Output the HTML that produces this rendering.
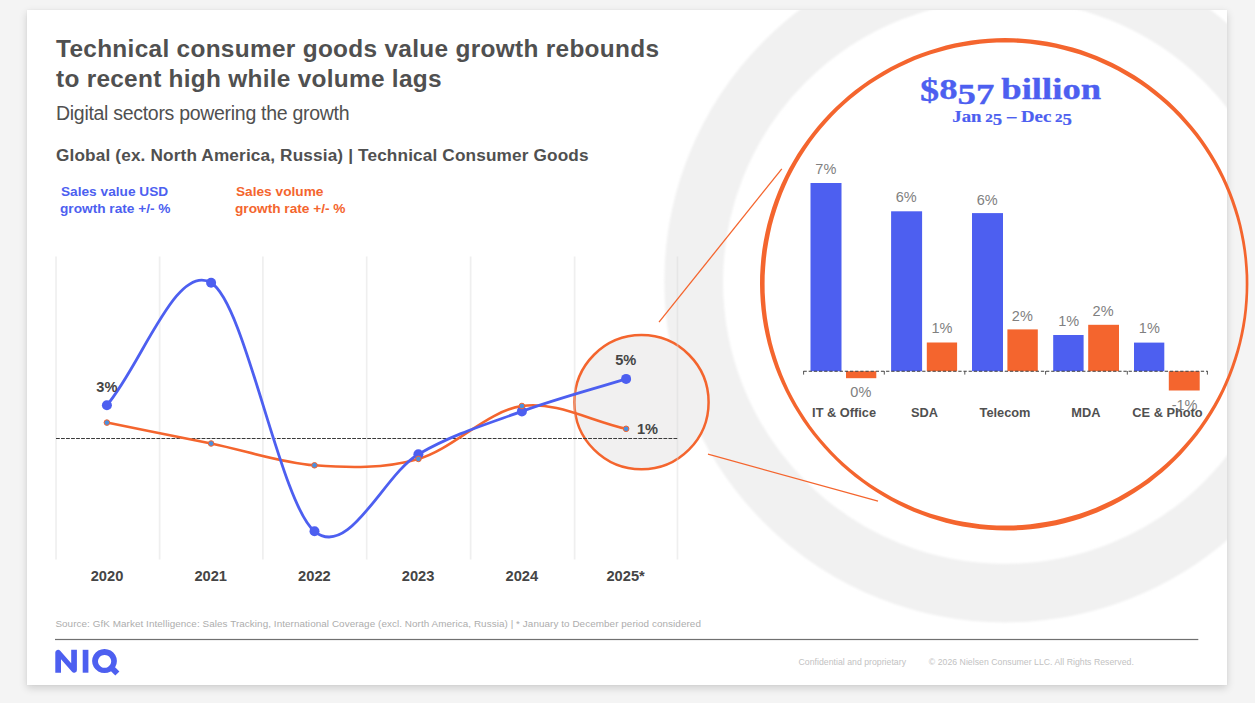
<!DOCTYPE html>
<html>
<head>
<meta charset="utf-8">
<title>Technical consumer goods</title>
<style>
html,body{margin:0;padding:0;}
body{width:1255px;height:703px;background:#f4f4f4;overflow:hidden;position:relative;font-family:"Liberation Sans",sans-serif;}
#card{position:absolute;left:27px;top:10px;width:1200px;height:675px;background:#fff;box-shadow:0 3px 8px rgba(0,0,0,0.16),0 0 2px rgba(0,0,0,0.04);}
svg{position:absolute;left:0;top:0;}
text{font-family:"Liberation Sans",sans-serif;}
.serif{font-family:"Liberation Serif",serif;font-weight:bold;fill:#4d5ff0;}
.b{font-weight:bold;}
.dk{fill:#505050;}
.bl{fill:#4d5ff0;}
.or{fill:#f4652e;}
.gy{fill:#808080;}
</style>
</head>
<body>
<div id="card"></div>
<svg width="1255" height="703" viewBox="0 0 1255 703">
<defs>
<clipPath id="cardclip"><rect x="27" y="10" width="1200" height="675"/></clipPath>
<filter id="soft" x="-5%" y="-5%" width="110%" height="110%"><feGaussianBlur stdDeviation="0.9"/></filter>
</defs>
<!-- background ring -->
<g clip-path="url(#cardclip)">
<circle cx="1005.1" cy="281.7" r="311.4" fill="none" stroke="#f1f1f1" stroke-width="58.7" filter="url(#soft)"/>
</g>

<!-- titles -->
<text class="b dk" x="56" y="56.6" font-size="24.4" textLength="603" lengthAdjust="spacing">Technical consumer goods value growth rebounds</text>
<text class="b dk" x="56" y="86.6" font-size="24.4" textLength="385.5" lengthAdjust="spacing">to recent high while volume lags</text>
<text class="dk" x="56" y="120" font-size="19.5" textLength="293.5" lengthAdjust="spacing">Digital sectors powering the growth</text>
<text class="b dk" x="56" y="160.5" font-size="17.2" textLength="532.5" lengthAdjust="spacing">Global (ex. North America, Russia) | Technical Consumer Goods</text>

<!-- legend -->
<text class="b bl" x="61" y="195.7" font-size="13.68">Sales value USD</text>
<text class="b bl" x="60" y="212.8" font-size="13.68">growth rate +/- %</text>
<text class="b or" x="236" y="195.7" font-size="13.68">Sales volume</text>
<text class="b or" x="235" y="212.8" font-size="13.68">growth rate +/- %</text>

<!-- small circle -->
<circle cx="641.5" cy="402.2" r="67.1" fill="#f1f0f0" stroke="#f4652e" stroke-width="2.5"/>

<!-- gridlines -->
<g stroke="#d6d6d6" stroke-opacity="0.4" stroke-width="1.7">
<line x1="56" y1="256.5" x2="56" y2="559.5"/>
<line x1="159.6" y1="256.5" x2="159.6" y2="559.5"/>
<line x1="262.9" y1="256.5" x2="262.9" y2="559.5"/>
<line x1="366.7" y1="256.5" x2="366.7" y2="559.5"/>
<line x1="470.6" y1="256.5" x2="470.6" y2="559.5"/>
<line x1="574.6" y1="256.5" x2="574.6" y2="559.5"/>
<line x1="677.5" y1="256.5" x2="677.5" y2="559.5"/>
</g>

<!-- zero line -->
<line x1="56" y1="438.5" x2="678" y2="438.5" stroke="#3a3a3a" stroke-width="1.1" stroke-dasharray="3.8 1.22"/>

<!-- connectors -->
<line x1="659" y1="322.2" x2="781.8" y2="168.8" stroke="#f4652e" stroke-width="1.3"/>
<line x1="708" y1="454.2" x2="878" y2="501.2" stroke="#f4652e" stroke-width="1.25"/>

<!-- lines -->
<path d="M106.9,422.6 C141.6,429.6 176.5,436.4 211.1,443.5 C245.7,450.6 279.9,462.7 314.5,465.3 C349.1,467.9 383.8,468.8 418.4,458.9 C453.0,449.0 487.3,411.0 521.9,406.0 C556.5,401.0 591.4,421.2 626.1,428.8" fill="none" stroke="#f4652e" stroke-width="2.6" stroke-linecap="round" stroke-linejoin="round"/>
<path d="M106.9,405.2 C141.6,364.4 176.5,261.8 211.1,282.8 C245.7,303.8 279.9,502.7 314.5,531.3 C349.1,559.9 383.8,474.2 418.4,454.2 C453.0,434.2 487.3,423.9 521.9,411.4 C556.5,398.8 591.4,389.7 626.1,378.9" fill="none" stroke="#4d5ff0" stroke-width="2.8" stroke-linecap="round" stroke-linejoin="round"/>
<g fill="#4d5ff0">
<circle cx="106.9" cy="405.2" r="5"/><circle cx="211.1" cy="282.8" r="5"/><circle cx="314.5" cy="531.3" r="5"/><circle cx="418.4" cy="454.2" r="5"/><circle cx="521.9" cy="411.4" r="5"/><circle cx="626.1" cy="378.9" r="5"/>
</g>
<g fill="#4a90e0" stroke="#f4652e" stroke-width="1">
<circle cx="106.9" cy="422.6" r="2.8"/><circle cx="211.1" cy="443.5" r="2.8"/><circle cx="314.5" cy="465.3" r="2.8"/><circle cx="418.4" cy="458.9" r="2.8"/><circle cx="521.9" cy="406" r="2.8"/><circle cx="626.1" cy="428.8" r="2.8"/>
</g>

<!-- data labels -->
<g class="b" fill="#454545" font-size="14.6" text-anchor="middle">
<text x="106.9" y="391.7">3%</text>
<text x="625.8" y="364.5">5%</text>
<text x="647.5" y="434.2">1%</text>
</g>
<!-- years -->
<g class="b" fill="#454545" font-size="14.67" text-anchor="middle">
<text x="107" y="580.6">2020</text>
<text x="210.7" y="580.6">2021</text>
<text x="314.4" y="580.6">2022</text>
<text x="418.1" y="580.6">2023</text>
<text x="521.8" y="580.6">2024</text>
<text x="625.6" y="580.6">2025*</text>
</g>

<!-- big circle (variable stroke) -->
<path fill="#f4652e" fill-rule="evenodd" d="M1248.4,284.0 L1248.2,292.5 L1247.8,301.0 L1247.1,309.5 L1246.1,318.0 L1244.8,326.4 L1243.2,334.8 L1241.3,343.1 L1239.1,351.4 L1236.7,359.5 L1234.0,367.6 L1231.0,375.6 L1227.7,383.5 L1224.2,391.2 L1220.4,398.9 L1216.3,406.4 L1212.0,413.7 L1207.4,421.0 L1202.6,428.0 L1197.5,434.9 L1192.2,441.6 L1186.7,448.1 L1181.0,454.4 L1175.0,460.6 L1168.8,466.5 L1162.4,472.2 L1155.8,477.6 L1149.1,482.9 L1142.1,487.8 L1135.0,492.6 L1127.7,497.1 L1120.3,501.3 L1112.7,505.3 L1104.9,509.0 L1097.1,512.4 L1089.1,515.5 L1081.0,518.4 L1072.8,520.9 L1064.6,523.2 L1056.2,525.2 L1047.8,526.8 L1039.3,528.2 L1030.8,529.2 L1022.3,530.0 L1013.7,530.4 L1005.1,530.5 L996.6,530.3 L988.0,529.8 L979.5,529.0 L971.0,527.8 L962.6,526.4 L954.2,524.7 L945.9,522.7 L937.6,520.3 L929.5,517.7 L921.5,514.8 L913.5,511.7 L905.7,508.2 L898.0,504.5 L890.5,500.5 L883.1,496.3 L875.8,491.8 L868.7,487.1 L861.8,482.1 L855.0,476.9 L848.4,471.5 L842.0,465.9 L835.8,460.0 L829.8,454.0 L824.0,447.7 L818.4,441.3 L813.0,434.7 L807.9,427.9 L802.9,420.9 L798.3,413.8 L793.8,406.5 L789.6,399.0 L785.7,391.5 L782.0,383.7 L778.6,375.9 L775.4,367.9 L772.6,359.9 L770.0,351.7 L767.7,343.4 L765.7,335.1 L764.0,326.7 L762.6,318.2 L761.5,309.7 L760.7,301.2 L760.2,292.6 L760.0,284.0 L760.1,275.4 L760.6,266.8 L761.3,258.3 L762.3,249.7 L763.7,241.3 L765.4,232.8 L767.3,224.5 L769.6,216.2 L772.1,208.0 L774.9,199.9 L778.0,191.9 L781.4,184.0 L785.1,176.3 L789.0,168.6 L793.2,161.2 L797.6,153.8 L802.3,146.7 L807.3,139.7 L812.4,132.9 L817.8,126.2 L823.5,119.8 L829.3,113.5 L835.3,107.5 L841.6,101.7 L848.0,96.0 L854.7,90.6 L861.5,85.5 L868.5,80.6 L875.6,75.9 L882.9,71.5 L890.4,67.3 L897.9,63.4 L905.7,59.7 L913.5,56.3 L921.5,53.2 L929.5,50.4 L937.7,47.9 L945.9,45.6 L954.3,43.6 L962.6,42.0 L971.1,40.6 L979.6,39.5 L988.1,38.7 L996.6,38.3 L1005.1,38.1 L1013.7,38.2 L1022.2,38.7 L1030.8,39.4 L1039.2,40.4 L1047.7,41.8 L1056.1,43.4 L1064.4,45.4 L1072.7,47.6 L1080.9,50.1 L1088.9,52.9 L1096.9,56.0 L1104.8,59.4 L1112.5,63.1 L1120.1,67.0 L1127.6,71.2 L1134.9,75.6 L1142.0,80.3 L1149.0,85.3 L1155.8,90.5 L1162.4,95.9 L1168.8,101.6 L1175.0,107.5 L1181.0,113.6 L1186.7,119.9 L1192.3,126.4 L1197.6,133.1 L1202.7,139.9 L1207.5,147.0 L1212.1,154.2 L1216.4,161.6 L1220.5,169.1 L1224.3,176.7 L1227.8,184.5 L1231.1,192.4 L1234.1,200.4 L1236.8,208.4 L1239.2,216.6 L1241.4,224.9 L1243.2,233.2 L1244.8,241.6 L1246.1,250.0 L1247.1,258.5 L1247.8,267.0 L1248.3,275.5 Z M1245.6,275.6 L1245.1,267.2 L1244.4,258.8 L1243.4,250.4 L1242.0,242.1 L1240.4,233.8 L1238.6,225.6 L1236.4,217.4 L1233.9,209.4 L1231.2,201.4 L1228.2,193.5 L1224.9,185.8 L1221.4,178.1 L1217.5,170.6 L1213.5,163.2 L1209.1,156.0 L1204.6,149.0 L1199.8,142.0 L1194.7,135.3 L1189.4,128.8 L1183.9,122.4 L1178.2,116.2 L1172.3,110.3 L1166.1,104.5 L1159.8,99.0 L1153.2,93.7 L1146.5,88.6 L1139.7,83.8 L1132.6,79.2 L1125.4,74.9 L1118.1,70.8 L1110.6,66.9 L1103.0,63.4 L1095.3,60.1 L1087.4,57.1 L1079.5,54.3 L1071.5,51.9 L1063.3,49.7 L1055.2,47.8 L1046.9,46.2 L1038.6,44.9 L1030.3,43.8 L1021.9,43.1 L1013.5,42.6 L1005.1,42.5 L996.8,42.6 L988.4,43.1 L980.0,43.8 L971.7,44.9 L963.4,46.2 L955.1,47.8 L947.0,49.7 L938.8,51.9 L930.8,54.3 L922.9,57.1 L915.0,60.1 L907.3,63.4 L899.7,66.9 L892.2,70.8 L884.9,74.9 L877.7,79.2 L870.6,83.8 L863.8,88.6 L857.1,93.7 L850.5,99.0 L844.2,104.5 L838.0,110.3 L832.1,116.2 L826.4,122.4 L820.9,128.8 L815.6,135.3 L810.5,142.0 L805.7,149.0 L801.2,156.0 L796.8,163.2 L792.8,170.6 L788.9,178.1 L785.4,185.8 L782.1,193.5 L779.1,201.4 L776.4,209.4 L773.9,217.4 L771.7,225.6 L769.9,233.8 L768.3,242.1 L766.9,250.4 L765.9,258.8 L765.2,267.2 L764.7,275.6 L764.6,284.0 L764.7,292.4 L765.2,300.8 L765.9,309.2 L766.9,317.6 L768.3,325.9 L769.9,334.2 L771.7,342.4 L773.9,350.6 L776.4,358.6 L779.1,366.6 L782.1,374.5 L785.4,382.2 L788.9,389.9 L792.8,397.4 L796.8,404.8 L801.2,412.0 L805.7,419.0 L810.5,426.0 L815.6,432.7 L820.9,439.2 L826.4,445.6 L832.1,451.8 L838.0,457.7 L844.2,463.5 L850.5,469.0 L857.1,474.3 L863.8,479.4 L870.6,484.2 L877.7,488.8 L884.9,493.1 L892.2,497.2 L899.7,501.1 L907.3,504.6 L915.0,507.9 L922.9,510.9 L930.8,513.7 L938.8,516.1 L947.0,518.3 L955.1,520.2 L963.4,521.8 L971.7,523.1 L980.0,524.2 L988.4,524.9 L996.8,525.4 L1005.1,525.5 L1013.5,525.4 L1021.9,524.9 L1030.3,524.2 L1038.6,523.1 L1046.9,521.8 L1055.2,520.2 L1063.3,518.3 L1071.5,516.1 L1079.5,513.7 L1087.4,510.9 L1095.3,507.9 L1103.0,504.6 L1110.6,501.1 L1118.1,497.2 L1125.4,493.1 L1132.6,488.8 L1139.7,484.2 L1146.5,479.4 L1153.2,474.3 L1159.8,469.0 L1166.1,463.5 L1172.3,457.7 L1178.2,451.8 L1183.9,445.6 L1189.4,439.2 L1194.7,432.7 L1199.8,426.0 L1204.6,419.0 L1209.1,412.0 L1213.5,404.8 L1217.5,397.4 L1221.4,389.9 L1224.9,382.2 L1228.2,374.5 L1231.2,366.6 L1233.9,358.6 L1236.4,350.6 L1238.6,342.4 L1240.4,334.2 L1242.0,325.9 L1243.4,317.6 L1244.4,309.2 L1245.1,300.8 L1245.6,292.4 L1245.7,284.0 Z"/>

<!-- big circle title -->
<g transform="translate(920,99.3) scale(1.235,1)"><text class="serif" x="0" y="0" font-size="29.8" stroke="#4d5ff0" stroke-width="0.3"><tspan font-size="31" dy="1.6">$</tspan><tspan dy="-1.6">8</tspan><tspan dy="4.8">57</tspan></text></g>
<g transform="translate(1001.3,99.3) scale(1.23,1)"><text class="serif" x="0" y="0" font-size="29.8" stroke="#4d5ff0" stroke-width="0.35">billion</text></g>
<g transform="translate(952.3,121.9) scale(1.16,1)"><text class="serif" x="0" y="0" font-size="16.2" stroke="#4d5ff0" stroke-width="0.2">Jan <tspan font-size="13" dx="-0.8">2</tspan><tspan dy="2.9">5</tspan><tspan dy="-2.9"> – Dec </tspan><tspan font-size="13" dx="-0.8">2</tspan><tspan dy="2.9">5</tspan></text></g>

<!-- bars -->
<g fill="#4d5ff0">
<rect x="810.5" y="183" width="31" height="188.2"/>
<rect x="891.1" y="211.3" width="31" height="159.9"/>
<rect x="972" y="213.1" width="31" height="158.1"/>
<rect x="1053.2" y="335" width="30.4" height="36.2"/>
<rect x="1134" y="342.6" width="30.3" height="28.6"/>
</g>
<g fill="#f4652e">
<rect x="846" y="371.2" width="30.3" height="7"/>
<rect x="926.8" y="342.5" width="30.3" height="28.7"/>
<rect x="1007.4" y="329.4" width="30.4" height="41.8"/>
<rect x="1088.2" y="324.8" width="30.8" height="46.4"/>
<rect x="1168.8" y="371.2" width="30.9" height="19.3"/>
</g>
<!-- axis -->
<line x1="803.5" y1="371.25" x2="1207.6" y2="371.25" stroke="#3e3e3e" stroke-width="1.15" stroke-dasharray="3.3 1.86"/>
<g stroke="#555" stroke-width="1">
<line x1="803.6" y1="371" x2="803.6" y2="374.6"/>
<line x1="884.3" y1="371" x2="884.3" y2="374.6"/>
<line x1="964.8" y1="371" x2="964.8" y2="374.6"/>
<line x1="1045.6" y1="371" x2="1045.6" y2="374.6"/>
<line x1="1127.3" y1="371" x2="1127.3" y2="374.6"/>
<line x1="1207.4" y1="371" x2="1207.4" y2="374.6"/>
</g>
<!-- bar labels -->
<g class="gy" font-size="14.5" text-anchor="middle">
<text x="825.8" y="173.7">7%</text>
<text x="906.2" y="201.7">6%</text>
<text x="987.2" y="204.7">6%</text>
<text x="1068.7" y="325.8">1%</text>
<text x="1149.3" y="332.8">1%</text>
<text x="860.8" y="396.5">0%</text>
<text x="942" y="332.9">1%</text>
<text x="1022.3" y="320.9">2%</text>
<text x="1103.1" y="315.9">2%</text>
<text x="1184.6" y="410">-1%</text>
</g>
<!-- categories -->
<g class="b dk" font-size="12.8" text-anchor="middle">
<text x="844.1" y="416.7">IT &amp; Office</text>
<text x="924.6" y="416.7">SDA</text>
<text x="1005" y="416.7">Telecom</text>
<text x="1085.9" y="416.7">MDA</text>
<text x="1167.5" y="416.7">CE &amp; Photo</text>
</g>

<!-- footer -->
<text x="55.4" y="626.6" font-size="9.9" fill="#adadad" textLength="645.5" lengthAdjust="spacing">Source: GfK Market Intelligence: Sales Tracking, International Coverage (excl. North America, Russia) | * January to December period considered</text>
<rect x="55" y="638.9" width="1143.3" height="1.2" fill="#707070"/>
<text x="798.5" y="664.7" font-size="8.7" fill="#c2c2c2" textLength="107.5" lengthAdjust="spacing">Confidential and proprietary</text>
<text x="928.8" y="664.7" font-size="8.7" fill="#c2c2c2" textLength="205" lengthAdjust="spacing">© 2026 Nielsen Consumer LLC. All Rights Reserved.</text>

<!-- NIQ logo -->
<g fill="#4d5ff0">
<path d="M55.3,672.7 V652.6 a2.8,2.8 0 0 1 4.9,-1.9 L71.2,663.3 V649.8 H76.9 V669.9 a2.8,2.8 0 0 1 -4.9,1.9 L61,659.2 V672.7 Z"/>
<rect x="82.7" y="649.8" width="5.7" height="22.9"/>
<path fill-rule="evenodd" d="M104.5,649 a12.4,12 0 1,0 0.01,0 Z M104.6,654.9 a6.6,6.45 0 1,1 -0.01,0 Z"/>
<path d="M108.2,668.5 L112.3,664.4 L119.4,671.5 L115.3,675.6 Z"/>
</g>
</svg>
</body>
</html>
